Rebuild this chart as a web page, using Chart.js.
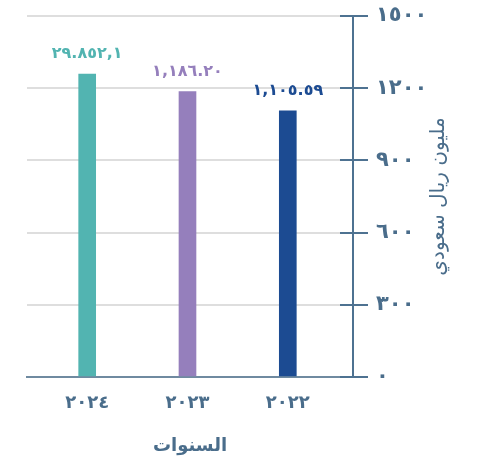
<!DOCTYPE html>
<html>
<head>
<meta charset="utf-8">
<script src="https://cdn.jsdelivr.net/npm/chart.js@4/dist/chart.umd.min.js"></script>
<style>
  html, body { margin: 0; padding: 0; background: #fff; }
  #wrap { width: 478px; height: 457px; }
</style>
</head>
<body>
<div id="wrap"><canvas id="myChart" width="478" height="457"></canvas></div>
<script>
const years = [2024, 2023, 2022];
const yearLabels = ['٢٠٢٤', '٢٠٢٣', '٢٠٢٢'];
const values = [1258.92, 1186.20, 1105.59];
const valueLabels = ['٢٩.٨٥٢,١', '١,١٨٦.٢٠', '١,١٠٥.٥٩'];
const barColors = ['#52b4b1', '#957fbc', '#1c4b92'];
const yTicks = [0, 300, 600, 900, 1200, 1500];
const yTickLabels = ['٠', '٣٠٠', '٦٠٠', '٩٠٠', '١٢٠٠', '١٥٠٠'];

const axisColor = '#4e7291';
const textColor = '#4a6d8b';
const fontFamily = '"DejaVu Sans", sans-serif';

// value labels over the bars, the inner half of the y ticks and the y title
const extras = {
  id: 'extras',
  afterDatasetsDraw(chart) {
    const ctx = chart.ctx;
    const meta = chart.getDatasetMeta(0);
    ctx.save();
    ctx.font = 'bold 16px ' + fontFamily;
    ctx.textAlign = 'center';
    ctx.textBaseline = 'middle';
    meta.data.forEach((bar, i) => {
      ctx.fillStyle = barColors[i];
      ctx.fillText(valueLabels[i], bar.x, bar.y - 20);
    });
    ctx.restore();
  },
  afterDraw(chart) {
    const ctx = chart.ctx;
    const y = chart.scales.y;
    ctx.save();
    ctx.strokeStyle = axisColor;
    ctx.lineWidth = 2;
    yTicks.forEach((v) => {
      const py = Math.round(y.getPixelForValue(v));
      ctx.beginPath();
      ctx.moveTo(y.left - 13, py);
      ctx.lineTo(y.left, py);
      ctx.stroke();
    });
    ctx.translate(439, (chart.chartArea.top + chart.chartArea.bottom) / 2);
    ctx.rotate(-Math.PI / 2);
    ctx.font = '20px ' + fontFamily;
    ctx.fillStyle = textColor;
    ctx.textAlign = 'center';
    ctx.textBaseline = 'middle';
    ctx.fillText('مليون ريال سعودي', 0, 0);
    ctx.restore();
  }
};

new Chart(document.getElementById('myChart'), {
  type: 'bar',
  data: {
    datasets: [{
      data: years.map((yr, i) => ({ x: yr, y: values[i] })),
      backgroundColor: barColors,
      barThickness: 17,
    }],
  },
  options: {
    responsive: false,
    animation: false,
    layout: { padding: { left: 27, top: 16, right: 0, bottom: 0 } },
    plugins: {
      legend: { display: false },
      tooltip: { enabled: false },
    },
    scales: {
      x: {
        type: 'linear',
        offset: false,
        reverse: true,
        min: 2021.35,
        max: 2024.6,
        afterBuildTicks: (s) => { s.ticks = years.map((v) => ({ value: v })); },
        afterFit: (s) => { s.height = 80; },
        grid: { display: false, drawTicks: false },
        border: { display: true, color: '#6f8aa0', width: 2 },
        ticks: {
          padding: 16,
          color: textColor,
          font: { family: fontFamily, size: 18, weight: 'bold' },
          callback: (v) => { const i = years.indexOf(v); return i < 0 ? '' : yearLabels[i]; },
        },
        title: {
          display: true,
          text: 'السنوات',
          color: textColor,
          font: { family: fontFamily, size: 18, weight: 'bold' },
          padding: { top: 0, bottom: 0 },
        },
      },
      y: {
        position: 'right',
        min: 0,
        max: 1500,
        afterBuildTicks: (s) => { s.ticks = yTicks.map((v) => ({ value: v })); },
        afterFit: (s) => { s.width = 125; s.paddingTop = 0; s.paddingBottom = 0; },
        grid: { color: '#dedede', lineWidth: 2, tickColor: axisColor, tickLength: 15, tickWidth: 2 },
        border: { display: true, color: axisColor, width: 2 },
        ticks: {
          padding: 8,
          color: textColor,
          font: { family: fontFamily, size: 21, weight: 'bold' },
          callback: (v) => { const i = yTicks.indexOf(v); return i < 0 ? '' : yTickLabels[i]; },
        },
      },
    },
  },
  plugins: [extras],
});
</script>
</body>
</html>
